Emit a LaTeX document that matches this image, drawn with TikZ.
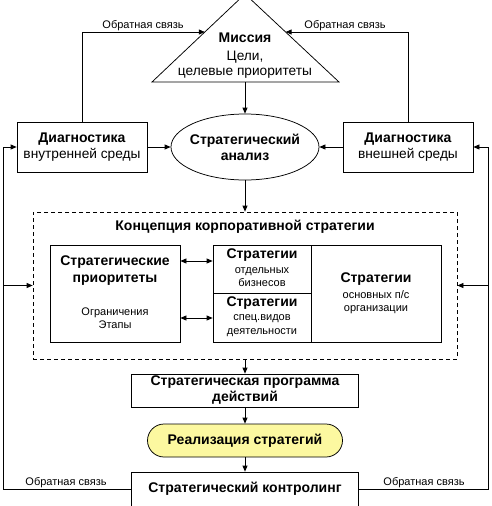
\documentclass[tikz,border=0pt]{standalone}
\usepackage{fontspec}
\setmainfont{Liberation Sans}
\usetikzlibrary{arrows.meta,shapes.geometric,calc}
\definecolor{realfill}{RGB}{252,248,160}
\begin{document}
\begin{tikzpicture}[x=1pt,y=-1pt,
  line width=0.75pt,
  arr/.style={-{Triangle[length=6pt,width=5pt]}},
  darr/.style={{Triangle[length=6pt,width=5pt]}-{Triangle[length=6pt,width=5pt]}},
  box/.style={draw, rectangle, inner sep=0pt},
  txt/.style={inner sep=0pt, align=center},
  bold/.style={txt, font=\fontsize{14}{16}\selectfont\bfseries},
  reg/.style={txt, font=\fontsize{13.7}{16}\selectfont},
  sm/.style={txt, font=\fontsize{11}{13}\selectfont},
  lbl/.style={txt, font=\fontsize{11}{13}\selectfont}
]
\useasboundingbox (0,0) rectangle (491,506);

% Mission triangle
\coordinate (apex) at (245,-6);
\coordinate (bl) at (152,82);
\coordinate (br) at (339,82);
\draw (apex) -- (bl) -- (br) -- cycle;
\coordinate (misbase) at (245,82);
\coordinate (tl) at (204.8,32);
\coordinate (tr) at (285.6,32);
\node[bold] (mis) at (245,38) {Миссия};
\node[reg, font=\fontsize{13.7}{15}\selectfont] (goals) at (245,65) {Цели,\\целевые приоритеты};

% Diagnostics
\node[box, minimum width=130pt, minimum height=50pt] (diagL) at (82,147) {};
\node[reg] (diagLt) at (diagL) {\fontsize{14}{16}\selectfont\textbf{Диагностика}\\внутренней среды};
\node[box, minimum width=130pt, minimum height=50pt] (diagR) at (408,147) {};
\node[reg] (diagRt) at (diagR) {\fontsize{14}{16}\selectfont\textbf{Диагностика}\\внешней среды};

% Analysis
\node[draw, ellipse, inner sep=0pt, minimum width=148pt, minimum height=66pt] (ana) at (245,147) {};
\node[bold] (anat) at (ana) {Стратегический\\анализ};

% Concept
\node[draw, dash pattern=on 4pt off 3pt, rectangle, inner sep=0pt, minimum width=424pt, minimum height=147pt] (concept) at (245,285.5) {};
\node[bold] (ctitle) at (245,227) {Концепция корпоративной стратегии};

\node[box, minimum width=130pt, minimum height=97pt] (prio) at (115,293.5) {};
\node[bold, font=\fontsize{14}{17}\selectfont\bfseries] (prioT) at (115,270.5) {Стратегические\\приоритеты};
\node[sm, font=\fontsize{11}{12.5}\selectfont] (prioS) at (115,318) {Ограничения\\Этапы};

\node[box, minimum width=98pt, minimum height=48pt] (biz) at (262,269) {};
\node[bold] (bizT) at (262,255) {Стратегии};
\node[sm] (bizS) at (262,277.5) {отдельных\\бизнесов};

\node[box, minimum width=98pt, minimum height=49pt] (spec) at (262,317.5) {};
\node[bold] (specT) at (262,303) {Стратегии};
\node[sm, font=\fontsize{11}{14}\selectfont] (specS) at (262,326) {спец.видов\\деятельности};

\node[box, minimum width=130pt, minimum height=97pt] (osn) at (376,293.5) {};
\node[bold] (osnT) at (376,279) {Стратегии};
\node[sm, font=\fontsize{11}{12.5}\selectfont] (osnS) at (376,302) {основных п/с\\организации};

% Program, realization, controlling
\node[box, minimum width=227pt, minimum height=33pt] (prog) at (245,390.5) {};
\node[bold] (progt) at (prog) {Стратегическая программа\\действий};
\node[draw, fill=realfill, rounded corners=16.5pt, inner sep=0pt, minimum width=195pt, minimum height=33pt] (real) at (245,440.5) {};
\node[bold] (realt) at (real) {Реализация стратегий};
\node[box, minimum width=227pt, minimum height=34pt] (ctrl) at (245,489) {};
\node[bold] (ctrlt) at (ctrl) {Стратегический контролинг};

% Connectors
\draw[arr] (diagL.north) |- (tl);
\draw[arr] (diagR.north) |- (tr);
\draw[arr] (misbase) -- (ana.north);
\draw[arr] (diagL.east) -- (ana.west);
\draw[arr] (diagR.west) -- (ana.east);
\draw[arr] (ana.south) -- (concept.north);
\draw[darr] (prio.east |- 0,261) -- (biz.west |- 0,261);
\draw[darr] (prio.east |- 0,318) -- (spec.west |- 0,318);
\draw[arr] (concept.south) -- (prog.north);
\draw[arr] (prog.south) -- (real.north);
\draw[arr] (real.south) -- (ctrl.north);

\coordinate (lb) at (3,489);
\coordinate (rb) at (488,489);
\draw[arr] (ctrl.west) -- (lb) -- (lb |- diagL.west) -- (diagL.west);
\draw[arr] (lb |- concept.west) -- (concept.west);
\draw[arr] (ctrl.east) -- (rb) -- (rb |- diagR.east) -- (diagR.east);
\draw[arr] (rb |- concept.east) -- (concept.east);

% Labels
\node[lbl] (fb1) at (143,26) {Обратная связь};
\node[lbl] (fb2) at (345,26) {Обратная связь};
\node[lbl] (fb3) at (66,483) {Обратная связь};
\node[lbl] (fb4) at (424,483) {Обратная связь};
\end{tikzpicture}
\end{document}
